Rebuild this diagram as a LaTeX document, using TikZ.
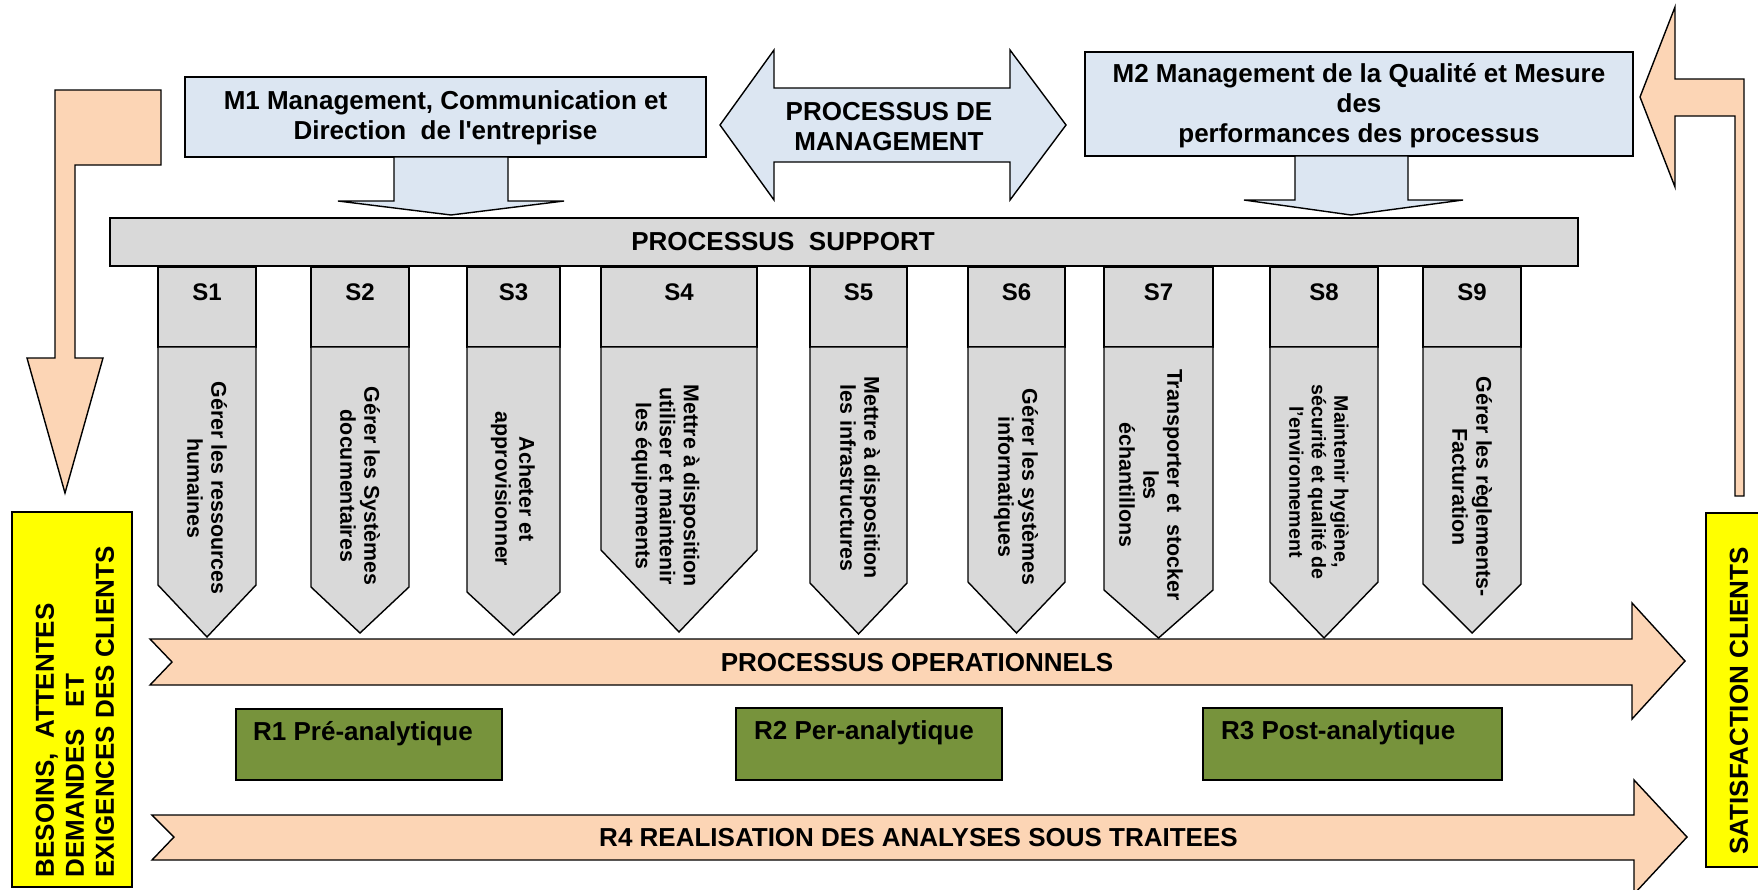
\documentclass[tikz,border=0pt]{standalone}
\usepackage{fontspec}
\setmainfont{Liberation Sans}
\definecolor{mblue}{HTML}{DCE6F2}
\definecolor{sgray}{HTML}{D9D9D9}
\definecolor{peach}{HTML}{FCD5B5}
\definecolor{yelbox}{HTML}{FFFF00}
\definecolor{olivebox}{HTML}{77933C}
\begin{document}
\begin{tikzpicture}[x=1pt,y=-1pt,
  box/.style={draw=black,line width=1.4pt,line join=miter},
  bigtxt/.style={font=\bfseries\fontsize{26}{30}\selectfont,inner sep=0pt,align=center},
  stxt/.style={font=\bfseries\fontsize{21.4}{24}\selectfont,inner sep=0pt,align=center,rotate=-90},
  stxtsmall/.style={font=\bfseries\fontsize{19.6}{22.5}\selectfont,inner sep=0pt,align=center,rotate=-90},
  slab/.style={font=\bfseries\fontsize{24}{28}\selectfont,inner sep=0pt}]
\useasboundingbox (0,0) rectangle (1758,889);
\clip (0,0) rectangle (1758,889);
\fill[white] (0,0) rectangle (1758,889);

% side L-arrows
\draw[box,fill=peach] (55,90) -- (161,90) -- (161,165) -- (75,165) -- (75,358) -- (103,358) -- (65,493) -- (27,358) -- (55,358) -- cycle;
\draw[box,fill=peach] (1744,496) -- (1744,79) -- (1675,79) -- (1675,7) -- (1640,97) -- (1675,187) -- (1675,116) -- (1735,116) -- (1735,496) -- cycle;

% yellow side boxes
\draw[box,fill=yelbox] (12,512) rectangle (132,887);
\node[bigtxt,align=left,rotate=90] (besoins) at (75,712) {BESOINS,\ \ ATTENTES\\DEMANDES\ \ \ ET\\EXIGENCES DES CLIENTS};
\draw[box,fill=yelbox] (1706,513) rectangle (1770,867);
\node[bigtxt,rotate=90] (satisf) at (1739,701) {SATISFACTION CLIENTS};

% management
\draw[box,fill=mblue] (185,77) rectangle (706,157);
\node[bigtxt] (m1) at (445.5,117.5) {M1 Management, Communication et\\Direction\ \ de l\textquotesingle entreprise};
\draw[box,fill=mblue] (394,157) -- (508,157) -- (508,201) -- (564,201) -- (451,215) -- (338,201) -- (394,201) -- cycle;

\draw[box,fill=mblue] (720,125) -- (774,50) -- (774,88) -- (1010,88) -- (1010,50) -- (1066,125) -- (1010,200) -- (1010,162) -- (774,162) -- (774,200) -- cycle;
\node[bigtxt] (pm) at (889,127) {PROCESSUS DE\\MANAGEMENT};

\draw[box,fill=mblue] (1085,52) rectangle (1633,156);
\node[bigtxt] (m2) at (1359,106) {M2 Management de la Qualité et Mesure\\des\\performances des processus};
\draw[box,fill=mblue] (1295,156) -- (1408,156) -- (1408,200) -- (1463,200) -- (1351,215) -- (1244,200) -- (1295,200) -- cycle;

% support
\draw[box,fill=sgray] (110,218) rectangle (1578,266);
\node[bigtxt] (ps) at (783,242) {PROCESSUS\ \ SUPPORT};

% S boxes
\foreach \xl/\xr/\ps/\tip/\lab in {158/256/585/637/S1, 311/409/587/633/S2, 467/560/592/635/S3, 601/757/550/632/S4, 810/907/583/634/S5, 968/1065/582/633/S6, 1104/1213/590/638/S7, 1270/1378/582/638/S8, 1423/1521/584/633/S9}{
  \draw[box,fill=sgray] (\xl,267) rectangle (\xr,347);
  \draw[box,fill=sgray] (\xl,347) -- (\xr,347) -- (\xr,\ps) -- ({(\xl+\xr)/2},\tip) -- (\xl,\ps) -- cycle;
  \node[slab] (lab\lab) at ({(\xl+\xr)/2},292) {\lab};
}
\node[stxt] (t1) at (207,488) {Gérer les ressources\\humaines};
\node[stxt] (t2) at (360,486) {Gérer les Systèmes\\documentaires};
\node[stxt] (t3) at (513,489) {Acheter et\\approvisionner};
\node[stxt] (t4) at (665.5,486) {Mettre à disposition\\utiliser et maintenir\\les équipements};
\node[stxt] (t5) at (860,478) {Mettre à disposition\\les infrastructures};
\node[stxt] (t6) at (1016,487) {Gérer les systèmes\\informatiques};
\node[stxt] (t7) at (1151,485) {Transporter et\ \ stocker\\les\\échantillons};
\node[stxtsmall] (t8) at (1319,482) {Maintenir hygiène,\\sécurité et qualité de\\l'environnement};
\node[stxt] (t9) at (1472,487) {Gérer les règlements-\\Facturation};

% operational arrows
\draw[box,fill=peach] (150,639) -- (1632,639) -- (1632,603) -- (1685,661) -- (1632,719) -- (1632,685) -- (150,685) -- (172,662) -- cycle;
\node[bigtxt] (po) at (917,663) {PROCESSUS OPERATIONNELS};
\draw[box,fill=peach] (152,815) -- (1634,815) -- (1634,780) -- (1687,837) -- (1634,894) -- (1634,860) -- (152,860) -- (174,837) -- cycle;
\node[bigtxt] (r4) at (918.5,838) {R4 REALISATION DES ANALYSES SOUS TRAITEES};

% R boxes
\draw[box,fill=olivebox] (236,709) rectangle (502,780);
\node[bigtxt,anchor=west] (r1) at (253,734) {R1 Pré-analytique};
\draw[box,fill=olivebox] (736,708) rectangle (1002,780);
\node[bigtxt,anchor=west] (r2) at (754,733) {R2 Per-analytique};
\draw[box,fill=olivebox] (1203,708) rectangle (1502,780);
\node[bigtxt,anchor=west] (r3) at (1221,733) {R3 Post-analytique};
\end{tikzpicture}
\end{document}
